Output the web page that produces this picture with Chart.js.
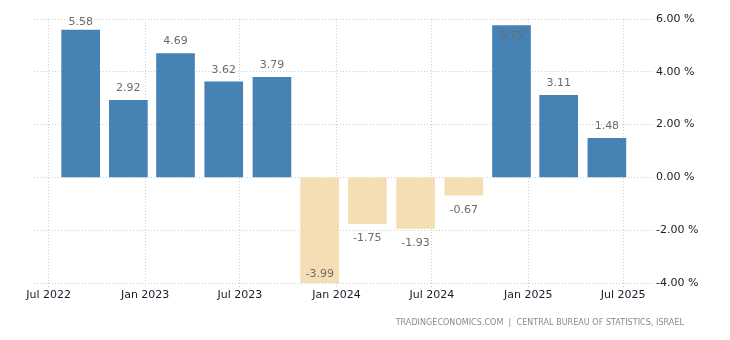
<!DOCTYPE html>
<html lang="en">
<head>
  <meta charset="UTF-8">
  <title>Israel GDP Growth Rate</title>
  <script src="https://cdn.jsdelivr.net/npm/chart.js"></script>
  <style>
    body { margin: 0; background: #fff; }
    #wrap { position: relative; width: 730px; height: 340px; }
    #source { position: absolute; right: 46px; top: 318px; font: 8px "DejaVu Sans"; letter-spacing: 0.05px; color: #8a8a8a; white-space: pre; }
  </style>
</head>
<body>

<div id="wrap">
  <canvas id="gdpChart" width="730" height="340"></canvas>
  <div id="source">TRADINGECONOMICS.COM  |  CENTRAL BUREAU OF STATISTICS, ISRAEL</div>
</div>

<script>
  // quarterly growth, as plotted
  const periods = ['2022-08-31', '2022-11-30', '2023-02-28', '2023-05-31', '2023-08-31', '2023-11-30',
                   '2024-02-29', '2024-05-31', '2024-08-31', '2024-11-30', '2025-02-28', '2025-05-31'];
  const growth = [5.58, 2.92, 4.69, 3.62, 3.79, -3.99, -1.75, -1.93, -0.67, 5.75, 3.11, 1.48];

  const tickDates = ['2022-07-01', '2023-01-01', '2023-07-01', '2024-01-01', '2024-07-01', '2025-01-01', '2025-07-01'];
  const tickLabels = ['Jul 2022', 'Jan 2023', 'Jul 2023', 'Jan 2024', 'Jul 2024', 'Jan 2025', 'Jul 2025'];
  const yTicks = [-4, -2, 0, 2, 4, 6];

  function dayNum(s) {
    const p = s.split('-');
    return Date.UTC(+p[0], +p[1] - 1, +p[2]) / 86400000;
  }

  const font = 'DejaVu Sans';

  const valueLabels = {
    id: 'valueLabels',
    afterDatasetsDraw(chart) {
      const ctx = chart.ctx;
      const area = chart.chartArea;
      const meta = chart.getDatasetMeta(0);
      ctx.save();
      ctx.font = '11px "' + font + '"';
      ctx.fillStyle = '#6b6b6b';
      ctx.textAlign = 'center';
      ctx.textBaseline = 'middle';
      meta.data.forEach((bar, i) => {
        const v = growth[i];
        let y;
        if (v >= 0) {
          y = bar.y - 12;
          if (y < area.top - 3) y = bar.y + 11;
          else if (y < area.top + 3) y = area.top + 3;
        } else {
          y = bar.y + 15;
          if (y > area.bottom) y = bar.y - 9;
        }
        ctx.fillText(v.toFixed(2), bar.x, y);
      });
      ctx.restore();
    }
  };

  new Chart(document.getElementById('gdpChart'), {
    type: 'bar',
    data: {
      datasets: [{
        data: periods.map((d, i) => ({ x: dayNum(d), y: growth[i] })),
        backgroundColor: growth.map(v => v >= 0 ? '#4682B4' : '#F5DEB3'),
        barThickness: 38,
        borderWidth: 0
      }]
    },
    options: {
      responsive: false,
      animation: false,
      layout: { padding: { left: 34, top: 19, right: 0, bottom: 0 } },
      plugins: { legend: { display: false }, tooltip: { enabled: false } },
      scales: {
        x: {
          type: 'linear',
          offset: false,
          min: dayNum('2022-06-03'),
          max: dayNum('2025-08-27'),
          afterBuildTicks: s => { s.ticks = tickDates.map(d => ({ value: dayNum(d) })); },
          afterFit: s => { s.height = 57; },
          grid: { color: '#cfcfcf', tickLength: 4, offset: false, tickBorderDash: [1, 2] },
          border: { display: false, dash: [1, 2] },
          ticks: {
            autoSkip: false,
            maxRotation: 0,
            padding: 2,
            color: '#1a1a2a',
            font: { family: font, size: 11 },
            callback: v => tickLabels[tickDates.map(dayNum).indexOf(v)]
          }
        },
        y: {
          position: 'right',
          min: -4,
          max: 6,
          afterBuildTicks: s => { s.ticks = yTicks.map(v => ({ value: v })); },
          afterFit: s => { s.width = 77; },
          grid: { color: '#cfcfcf', drawTicks: false },
          border: { display: false, dash: [1, 2] },
          ticks: {
            padding: 3,
            color: '#1a1a2a',
            font: { family: font, size: 11 },
            callback: v => v.toFixed(2) + ' %'
          }
        }
      }
    },
    plugins: [valueLabels]
  });
</script>
</body>
</html>
